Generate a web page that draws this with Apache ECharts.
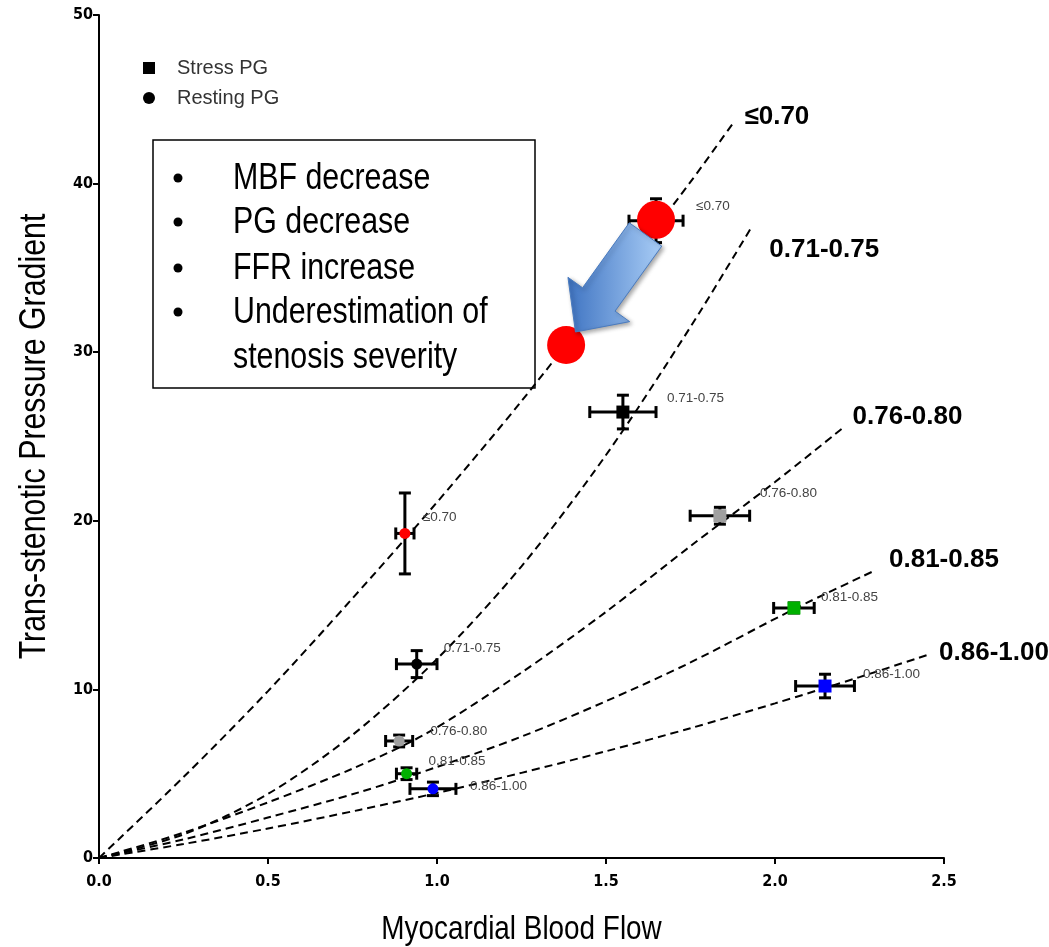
<!DOCTYPE html>
<html>
<head>
<meta charset="utf-8">
<script src="https://cdn.jsdelivr.net/npm/echarts@6/dist/echarts.min.js"></script>
<style>
html,body{margin:0;padding:0;background:#fff;}
#chart{width:1049px;height:947px;}
</style>
</head>
<body>
<div id="chart"></div>
<script>
// ---------------- DATA ----------------
const categories = ['≤0.70', '0.71-0.75', '0.76-0.80', '0.81-0.85', '0.86-1.00'];

const stressMBF    = [1.648, 1.55, 1.837, 2.056, 2.148];
const stressMBFErr = [0.08, 0.098, 0.088, 0.06, 0.087];
const stressPG     = [37.8, 26.45, 20.3, 14.83, 10.2];
const stressPGErr  = [1.3, 1.0, 0.5, 0.3, 0.7];

const restMBF    = [0.905, 0.94, 0.888, 0.91, 0.988];
const restMBFErr = [0.027, 0.06, 0.04, 0.03, 0.068];
const restPG     = [19.25, 11.5, 6.94, 5.0, 4.1];
const restPGErr  = [2.4, 0.8, 0.35, 0.35, 0.4];

// dashed curves
const curve070 = [[0, 0], [0.25, 4.8], [0.5, 9.9], [0.75, 15.4], [1.0, 21.1], [1.25, 27.1], [1.5, 33.5], [1.75, 40.1], [1.88, 43.7]];
const curve075 = [[0, 0], [0.25, 1.4], [0.5, 3.8], [0.75, 7.3], [1.0, 11.8], [1.25, 17.3], [1.5, 23.9], [1.75, 31.5], [1.93, 37.4]];
const curve080 = [[0, 0], [0.25, 1.5], [0.5, 3.3], [0.75, 5.3], [0.97, 7.4], [1.25, 11.0], [1.5, 14.6], [1.75, 18.5], [2.0, 22.3], [2.2, 25.5]];
const curve085 = [[0, 0], [0.25, 1.1], [0.5, 2.4], [0.77, 3.9], [1.0, 5.4], [1.25, 7.2], [1.5, 9.3], [1.75, 11.6], [2.06, 14.8], [2.29, 17.0]];
const curve100 = [[0, 0], [0.25, 0.83], [0.5, 1.75], [0.77, 2.85], [1.0, 3.86], [1.25, 5.05], [1.5, 6.33], [1.75, 7.7], [2.0, 9.17], [2.25, 10.73], [2.45, 12.04]];
const curves = [curve070, curve075, curve080, curve085, curve100];

// annotation circles (stress point and projected point)
const annotFrom = [1.648, 37.85];
const annotTo   = [1.382, 30.43];

const boxLines = ['MBF decrease', 'PG decrease', 'FFR increase', 'Underestimation of', 'stenosis severity'];
const xTitle = 'Myocardial Blood Flow';
const yTitle = 'Trans-stenotic Pressure Gradient';

// ---------------- STYLE ----------------
const COND = '"DejaVu Sans Condensed","Liberation Sans",sans-serif';
const ARIAL = '"Liberation Sans", Arial, sans-serif';
const pointColors = ['#ff0000', '#000000', '#a0a0a0', '#00b000', '#0000ff'];
const stressLabelOff = [[40, -14], [44, -14], [40, -22], [27, -11], [38, -12]];
const restLabelOff   = [[18, -16], [27, -16], [31, -10], [22, -12], [37, -3]];
const endLabelOff    = [[10, -4], [18, 22], [10, -11], [16, -12], [12, -2]];

function errRender(kind, offs) {
  return function (params, api) {
    const i = params.dataIndex;
    const x = api.value(0), y = api.value(1), ex = api.value(2), ey = api.value(3);
    const c = api.coord([x, y]);
    const l = api.coord([x - ex, y]), r = api.coord([x + ex, y]);
    const t = api.coord([x, y + ey]), b = api.coord([x, y - ey]);
    const st = {stroke: '#000', lineWidth: 3};
    const cap = 6;
    const children = [
      {type: 'line', shape: {x1: l[0], y1: c[1], x2: r[0], y2: c[1]}, style: st},
      {type: 'line', shape: {x1: l[0], y1: c[1] - cap, x2: l[0], y2: c[1] + cap}, style: st},
      {type: 'line', shape: {x1: r[0], y1: c[1] - cap, x2: r[0], y2: c[1] + cap}, style: st},
      {type: 'line', shape: {x1: c[0], y1: t[1], x2: c[0], y2: b[1]}, style: st},
      {type: 'line', shape: {x1: c[0] - cap, y1: t[1], x2: c[0] + cap, y2: t[1]}, style: st},
      {type: 'line', shape: {x1: c[0] - cap, y1: b[1], x2: c[0] + cap, y2: b[1]}, style: st}
    ];
    if (kind === 'rect') {
      children.push({type: 'rect', shape: {x: c[0] - 6.5, y: c[1] - 6.5, width: 13, height: 13}, style: {fill: pointColors[i]}});
    } else {
      children.push({type: 'circle', shape: {cx: c[0], cy: c[1], r: 5.5}, style: {fill: pointColors[i]}});
    }
    children.push({type: 'text', x: c[0] + offs[i][0], y: c[1] + offs[i][1],
      style: {text: categories[i], fill: '#444', font: '13.5px ' + ARIAL, align: 'left', verticalAlign: 'middle'}});
    return {type: 'group', children: children};
  };
}

const stressData = categories.map((c, i) => [stressMBF[i], stressPG[i], stressMBFErr[i], stressPGErr[i]]);
const restData = categories.map((c, i) => [restMBF[i], restPG[i], restMBFErr[i], restPGErr[i]]);

const lineSeries = curves.map((pts, i) => ({
  type: 'line', name: categories[i], data: pts, smooth: 0.3, showSymbol: false, symbol: 'none',
  silent: true, z: 2,
  lineStyle: {color: '#000', width: 2, type: [8, 5]},
  endLabel: {show: true, formatter: categories[i], fontSize: 26, fontWeight: 'bold', color: '#000',
    fontFamily: ARIAL, distance: 0, offset: endLabelOff[i]}
}));

const chart = echarts.init(document.getElementById('chart'), null, {renderer: 'canvas'});

const option = {
  animation: false,
  backgroundColor: '#fff',
  grid: {left: 99, right: 105, top: 15, bottom: 89, containLabel: false},
  legend: {
    orient: 'vertical', left: 138, top: 53, itemWidth: 12, itemHeight: 12, itemGap: 10,
    textStyle: {fontSize: 20, color: '#333', fontFamily: ARIAL, padding: [0, 0, 0, 17]},
    data: [
      {name: 'Stress PG', icon: 'rect', itemStyle: {color: '#000'}},
      {name: 'Resting PG', icon: 'circle', itemStyle: {color: '#000'}}
    ]
  },
  xAxis: {
    type: 'value', min: 0, max: 2.5, interval: 0.5,
    axisLine: {show: true, onZero: false, lineStyle: {color: '#000', width: 2}},
    axisTick: {show: true, length: 6, lineStyle: {color: '#000', width: 2}},
    axisLabel: {formatter: v => v.toFixed(1), fontSize: 16, fontWeight: 'bold', color: '#000', fontFamily: COND, margin: 16},
    splitLine: {show: false}
  },
  yAxis: {
    type: 'value', min: 0, max: 50, interval: 10,
    axisLine: {show: true, onZero: false, lineStyle: {color: '#000', width: 2}},
    axisTick: {show: true, length: 6, lineStyle: {color: '#000', width: 2}},
    axisLabel: {fontSize: 16, fontWeight: 'bold', color: '#000', fontFamily: COND, margin: 6},
    splitLine: {show: false}
  },
  series: lineSeries.concat([
    {type: 'custom', name: 'Stress PG', renderItem: errRender('rect', stressLabelOff), data: stressData,
      itemStyle: {color: '#000'}, z: 5, encode: {x: 0, y: 1}, clip: false},
    {type: 'custom', name: 'Resting PG', renderItem: errRender('circle', restLabelOff), data: restData,
      itemStyle: {color: '#000'}, z: 5, encode: {x: 0, y: 1}, clip: false},
    {type: 'scatter', name: 'annot', data: [annotFrom, annotTo], symbol: 'circle', symbolSize: 38,
      itemStyle: {color: '#ff0000', opacity: 1}, z: 8, silent: true}
  ])
};
chart.setOption(option);

// arrow between the two annotation circles + text box + axis titles
const p1 = chart.convertToPixel({gridIndex: 0}, annotFrom);
const p2 = chart.convertToPixel({gridIndex: 0}, annotTo);
const dx = p2[0] - p1[0], dy = p2[1] - p1[1];
const len = Math.sqrt(dx * dx + dy * dy);
const d = [dx / len, dy / len];
const n = [-d[1], d[0]];
const tail = [p1[0] + d[0] * 18, p1[1] + d[1] * 18];
const tip = [p2[0] - d[0] * 16, p2[1] - d[1] * 16];
const neck = [tip[0] - d[0] * 40, tip[1] - d[1] * 40];
const hw = 20, hh = 38;
const P = (b, s) => [b[0] + n[0] * s, b[1] + n[1] * s];
const arrowPts = [P(tail, hw), P(neck, hw), P(neck, hh), tip, P(neck, -hh), P(neck, -hw), P(tail, -hw)];

const boxX = 153, boxY = 140, boxW = 382, boxH = 248;
const lineYs = [179, 223, 269, 313, 358];
const boxChildren = [{type: 'rect', shape: {x: boxX, y: boxY, width: boxW, height: boxH},
  style: {fill: '#fff', stroke: '#000', lineWidth: 1.5}}];
boxLines.forEach((t, i) => {
  if (i < 4) {
    boxChildren.push({type: 'circle', shape: {cx: 178, cy: lineYs[i] - 1, r: 4.5}, style: {fill: '#000'}});
  }
  boxChildren.push({type: 'text', x: 233, y: lineYs[i], scaleX: 0.82,
    style: {text: t, fill: '#000', font: '37px ' + ARIAL, align: 'left', verticalAlign: 'middle'}});
});

const gx = chart.convertToPixel({xAxisIndex: 0}, 1.25);
const gy = chart.convertToPixel({yAxisIndex: 0}, 25);

chart.setOption({
  graphic: [
    {type: 'text', x: gx, y: 930, scaleX: 0.82, z: 10,
      style: {text: xTitle, fill: '#000', font: '34px ' + ARIAL, align: 'center', verticalAlign: 'middle'}},
    {type: 'text', x: 35, y: gy, rotation: Math.PI / 2, scaleX: 0.82, z: 10,
      style: {text: yTitle, fill: '#000', font: '37px ' + ARIAL, align: 'center', verticalAlign: 'middle'}},
    {type: 'group', z: 20, children: boxChildren},
    {type: 'polygon', z: 30, shape: {points: arrowPts},
      style: {
        fill: {type: 'linear', x: 0, y: 0, x2: 1, y2: 0,
          colorStops: [{offset: 0, color: '#3f74c2'}, {offset: 1, color: '#a9cdf6'}]},
        stroke: '#4a7bbf', lineWidth: 1,
        shadowBlur: 4, shadowColor: 'rgba(0,0,0,0.35)', shadowOffsetX: 2, shadowOffsetY: 2
      }}
  ]
});
</script>
</body>
</html>
